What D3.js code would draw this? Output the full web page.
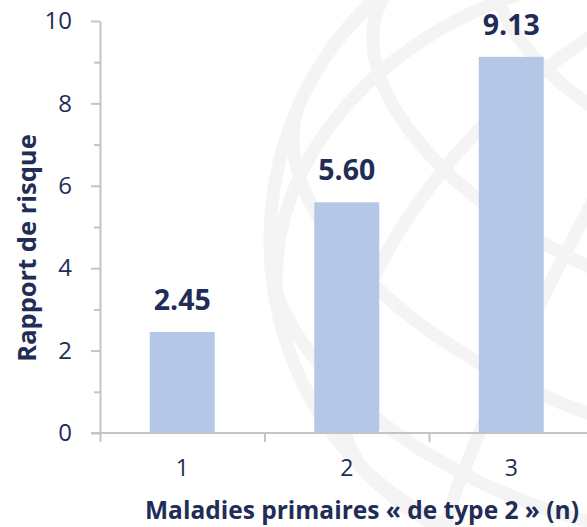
<!DOCTYPE html>
<html>
<head>
<meta charset="utf-8">
<script src="https://cdn.jsdelivr.net/npm/d3@7"></script>
<style>
  html, body { margin: 0; padding: 0; background: #fff; }
  svg { display: block; font-family: "Open Sans", Lato, sans-serif; }
</style>
</head>
<body>
<svg id="chart" width="587" height="527"></svg>
<script>
// Risk ratio by number of primary "type 2" diseases
const categories = [1, 2, 3];
const riskRatios = [2.45, 5.60, 9.13];
const yMajorTicks = [0, 2, 4, 6, 8, 10];
const yMinorTicks = [1, 3, 5, 7, 9];
const yTitle = "Rapport de risque";
const xTitle = "Maladies primaires « de type 2 » (n)";

const W = 587, H = 527;
const ink = "#1f2d57";
const axisGrey = "#c4c4c4";
const barFill = "#b4c7e7";
const fontFamily = "'Open Sans', Lato, sans-serif";

const svg = d3.select("#chart");

// Faint globe watermark in the background
const projection = d3.geoOrthographic()
  .scale(330)
  .translate([600, 240])
  .rotate([-35, -30, -25])
  .clipAngle(90);
const geoPath = d3.geoPath(projection);
const watermark = svg.append("g");
watermark.append("path")
  .datum(d3.geoGraticule().step([30, 25])())
  .attr("d", geoPath)
  .attr("fill", "none")
  .attr("stroke", "#f4f4f4")
  .attr("stroke-width", 13);
watermark.append("path")
  .datum({ type: "Sphere" })
  .attr("d", geoPath)
  .attr("fill", "none")
  .attr("stroke", "#f4f4f4")
  .attr("stroke-width", 13);

const plot = { left: 100, top: 21, bottom: 433 };
const step = 164.5;

const x = d3.scaleBand()
  .domain(categories)
  .range([plot.left, plot.left + step * categories.length])
  .paddingInner(0.605)
  .paddingOuter(0.3025);

const xEdges = d3.scaleLinear()
  .domain([0, categories.length])
  .range([plot.left, plot.left + step * categories.length]);

const y = d3.scaleLinear()
  .domain([0, 10])
  .range([plot.bottom, plot.top]);

// Bars
svg.append("g")
  .selectAll("rect")
  .data(categories)
  .join("rect")
  .attr("x", d => x(d))
  .attr("width", x.bandwidth())
  .attr("y", (d, i) => y(riskRatios[i]))
  .attr("height", (d, i) => y(0) - y(riskRatios[i]))
  .attr("fill", barFill);

// Value labels
svg.append("g")
  .selectAll("text")
  .data(categories)
  .join("text")
  .attr("x", d => x(d) + x.bandwidth() / 2)
  .attr("y", (d, i) => y(riskRatios[i]) - 22)
  .attr("text-anchor", "middle")
  .attr("font-size", 28.5)
  .attr("font-weight", 700)
  .attr("fill", ink)
  .text((d, i) => riskRatios[i].toFixed(2));

function styleAxis(g) {
  g.selectAll("path.domain").attr("stroke", axisGrey).attr("stroke-width", 2);
  g.selectAll(".tick line").attr("stroke", axisGrey).attr("stroke-width", 2);
}

// Y axis: minor ticks
svg.append("g")
  .attr("transform", `translate(${plot.left},0)`)
  .call(d3.axisLeft(y).tickValues(yMinorTicks).tickSize(6).tickFormat(""))
  .call(styleAxis)
  .call(g => g.select("path.domain").remove());

// Y axis: major ticks and labels
svg.append("g")
  .attr("transform", `translate(${plot.left},0)`)
  .call(d3.axisLeft(y).tickValues(yMajorTicks).tickSize(9).tickSizeOuter(0).tickPadding(19))
  .call(styleAxis)
  .call(g => g.selectAll(".tick text")
    .attr("font-family", fontFamily)
    .attr("font-size", 24)
    .attr("fill", ink));

// X axis: category boundary ticks
svg.append("g")
  .attr("transform", `translate(0,${plot.bottom})`)
  .call(d3.axisBottom(xEdges).tickValues(d3.range(categories.length + 1)).tickSize(9).tickSizeOuter(0).tickFormat(""))
  .call(styleAxis)
  .call(g => g.select("path.domain").attr("d", `M${plot.left - 9},0H${W + 10}`));

// X axis: category labels
svg.append("g")
  .attr("transform", `translate(0,${plot.bottom})`)
  .call(d3.axisBottom(x).tickSize(0).tickPadding(27))
  .call(g => g.select("path.domain").remove())
  .call(g => g.selectAll(".tick text")
    .attr("font-family", fontFamily)
    .attr("font-size", 23)
    .attr("fill", ink));

// Axis titles
svg.append("text")
  .attr("transform", `translate(36,248) rotate(-90)`)
  .attr("text-anchor", "middle")
  .attr("font-size", 25.5)
  .attr("font-weight", 700)
  .attr("fill", ink)
  .text(yTitle);

svg.append("text")
  .attr("x", 362)
  .attr("y", 519)
  .attr("text-anchor", "middle")
  .attr("font-size", 24.5)
  .attr("font-weight", 700)
  .attr("fill", ink)
  .text(xTitle);
</script>
</body>
</html>
